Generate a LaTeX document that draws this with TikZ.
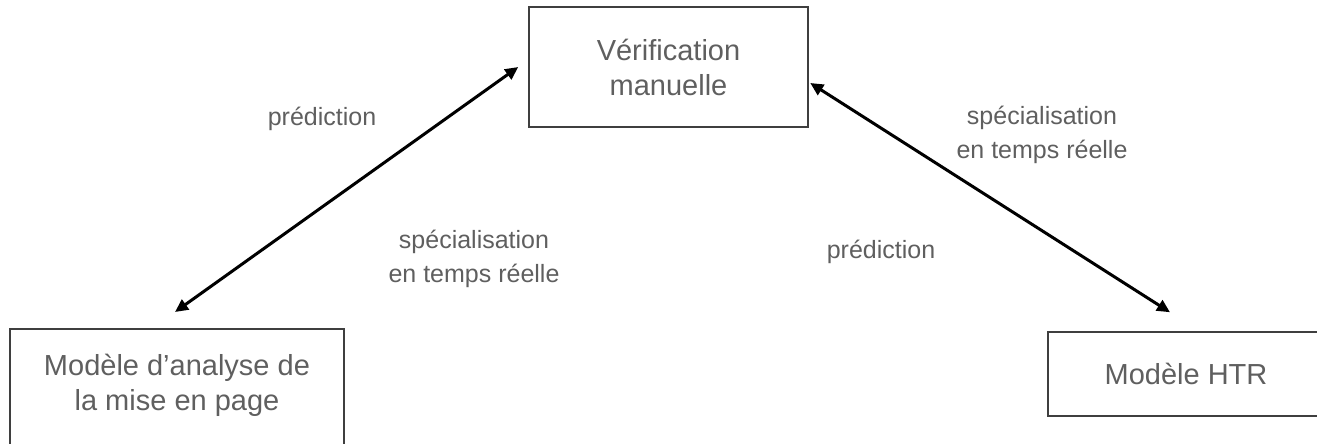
\documentclass[tikz,border=0pt]{standalone}
\usepackage{fontspec}
\setmainfont{Liberation Sans}
\usetikzlibrary{arrows.meta}
\definecolor{txtgray}{HTML}{5F5F5F}
\definecolor{framegray}{HTML}{3F3F3F}
\tikzset{
  box/.style={draw=framegray, line width=1.5pt, text=txtgray, align=center,
    font=\fontsize{29}{35}\selectfont, inner sep=0pt},
  lbl/.style={text=txtgray, align=center, font=\fontsize{25}{34}\selectfont, inner sep=0pt},
  link/.style={line width=3pt, black, {Triangle[length=13pt,width=12pt]}-{Triangle[length=13pt,width=12pt]}}
}
\begin{document}
\begin{tikzpicture}[x=1pt, y=-1pt]
  \useasboundingbox (0,0) rectangle (1317,444);
  \clip (0,0) rectangle (1317,444);

  % boxes
  \node[box, minimum width=279pt, minimum height=120pt] (verif) at (668.5,67)
    {Vérification\\manuelle};
  \node[box, anchor=north, minimum width=334pt, inner ysep=25pt] (layout) at (177,328)
    {Modèle d’analyse de\\la mise en page\rule[-60pt]{0pt}{0pt}};
  \node[box, minimum width=276pt, minimum height=84pt] (htr) at (1186,374)
    {Modèle HTR};

  % connectors
  \draw[link] ([yshift=16pt,xshift=-2pt]layout.north) -- ([xshift=-10pt]verif.west);
  \draw[link] ([xshift=1.5pt,yshift=-16pt]verif.east) -- ([xshift=-16pt,yshift=19pt]htr.north);

  % labels
  \node[lbl, anchor=base] (predL) at (322,125) {prédiction};
  \node[lbl] (specL) at (474,259) {spécialisation\\en temps réelle};
  \node[lbl] (specR) at (1042,135) {spécialisation\\en temps réelle};
  \node[lbl, anchor=base] (predR) at (881,258) {prédiction};
\end{tikzpicture}
\end{document}
